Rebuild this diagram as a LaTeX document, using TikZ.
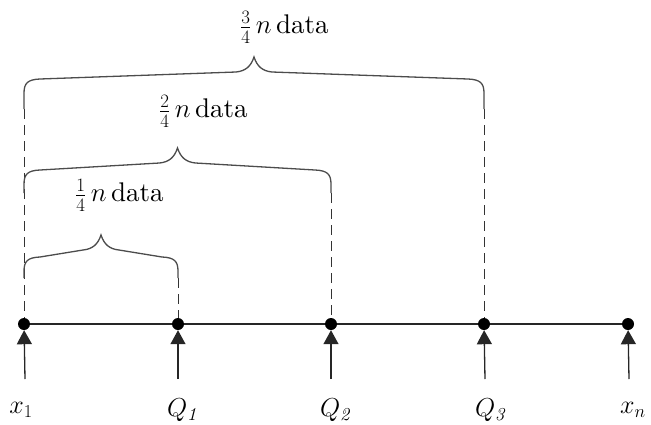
\RequirePackage{fix-cm}
\documentclass[tikz,border=0pt]{standalone}
\usepackage{amsmath}
\usepackage{fontspec}
\setmainfont{lmroman10-regular}[Extension=.otf,ItalicFont=lmroman10-italic,BoldFont=lmroman10-bold]
\usetikzlibrary{arrows.meta}
\newcommand\qbrace[4]{%
  \draw[bracestyle] (#1,#4) -- (#1,#3+36)
    .. controls (#1,#3+26) and (#1+4,#3+22.5) .. (#1+16,#3+22)
    -- ({(#1+#2)/2-18},#3+15)
    .. controls ({(#1+#2)/2-8},#3+14) and ({(#1+#2)/2-3},#3+9) .. ({(#1+#2)/2},#3)
    .. controls ({(#1+#2)/2+3},#3+9) and ({(#1+#2)/2+8},#3+14) .. ({(#1+#2)/2+18},#3+15)
    -- (#2-16,#3+22)
    .. controls (#2-4,#3+22.5) and (#2,#3+26) .. (#2,#3+36) -- (#2,#4);}
\begin{document}
\begin{tikzpicture}[x=1pt,y=-1pt,
  dot/.style={circle,fill=black,inner sep=0pt,minimum size=12pt},
  axisline/.style={line width=1.3pt,black!85},
  arr/.style={line width=1.3pt,black!85,-{Triangle[length=14pt,width=15pt]}},
  dashline/.style={line width=1pt,black!80,dash pattern=on 10pt off 6pt},
  bracestyle/.style={line width=1.3pt,black!70},
  lab/.style={font=\fontsize{26}{30}\selectfont,inner sep=0pt},
  toplab/.style={font=\fontsize{27}{31}\selectfont,inner sep=0pt,anchor=west}]
\useasboundingbox (0,0) rectangle (651,424);
% dots
\node[dot] (d1) at (24,324) {};
\node[dot] (d2) at (178,324) {};
\node[dot] (d3) at (331,324) {};
\node[dot] (d4) at (484,324) {};
\node[dot] (d5) at (628,324) {};
\draw[axisline] (d1) -- (d2) -- (d3) -- (d4) -- (d5);
% arrow bottoms
\coordinate (a1) at (25,379);
\coordinate (a2) at (178,379);
\coordinate (a3) at (331,379);
\coordinate (a4) at (485,379);
\coordinate (a5) at (629,379);
\foreach \i in {1,...,5} \draw[arr] (a\i) -- (d\i);
% labels
\node[lab] (l1) at (21,410) {$x_{1}$};
\node[lab] (l2) at (182,410) {$Q_{\mathit{1}}$};
\node[lab] (l3) at (335,410) {$Q_{\mathit{2}}$};
\node[lab] (l4) at (490,410) {$Q_{\mathit{3}}$};
\node[lab] (l5) at (633,410) {$x_{n}$};
% dashed lines
\coordinate (t1) at (24,109);
\coordinate (t2) at (178,278);
\coordinate (t3) at (331,193);
\coordinate (t4) at (484,109);
\draw[dashline] (t1) -- (d1);
\draw[dashline] (t2) -- (d2);
\draw[dashline] (t3) -- (d3);
\draw[dashline] (t4) -- (d4);
% braces
\qbrace{24}{484}{57}{109}
\qbrace{24}{331}{148}{193}
\qbrace{24}{178}{235}{278}
% brace labels
\node[toplab] (b3) at (240,27) {$\tfrac{3}{4}\,n$\,data};
\node[toplab] (b2) at (159,111) {$\tfrac{2}{4}\,n$\,data};
\node[toplab] (b1) at (75,195) {$\tfrac{1}{4}\,n$\,data};
\end{tikzpicture}
\end{document}
